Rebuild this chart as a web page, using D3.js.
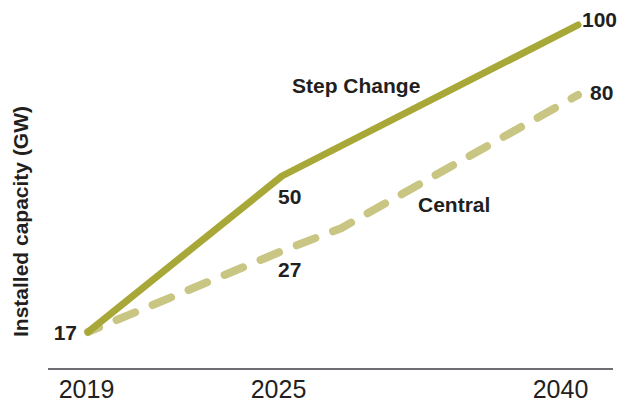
<!DOCTYPE html>
<html>
<head>
<meta charset="utf-8">
<script src="https://cdn.jsdelivr.net/npm/d3@7"></script>
<style>
  html, body { margin: 0; padding: 0; background: #fff; }
  svg { display: block; }
  text { font-family: "Liberation Sans", Arial, Helvetica, sans-serif; fill: #231f20; }
</style>
</head>
<body>
<svg id="chart" width="623" height="405"></svg>
<script>
// ---- data ----
const years = [2019, 2025, 2040];
const tickLabels = ["2019", "2025", "2040"];
const stepYears = [2019, 2025, 2040];
const stepValues = [17, 50, 100];
const centralYears = [2019, 2025, 2028, 2040];
const centralValues = [17, 27, 34, 80];
const valueLabels = [
  { year: 2019, value: 17, text: "17" },
  { year: 2025, value: 50, text: "50" },
  { year: 2025, value: 27, text: "27" },
  { year: 2040, value: 100, text: "100" },
  { year: 2040, value: 80, text: "80" }
];
const seriesNames = ["Step Change", "Central"];
const yTitle = "Installed capacity (GW)";

// ---- layout / style ----
const svg = d3.select("#chart");
const stepColor = "#a8a838";
const centralColor = "#c9c583";

// schematic (non-uniform) scales, as in the reference
const x = d3.scaleLinear().domain(years).range([88, 282, 578]);
const y = d3.scaleLinear().domain([17, 27, 50, 80, 100]).range([332, 251, 176, 95, 25]);

const line = d3.line().x(d => x(d[0])).y(d => y(d[1]));

// baseline axis
svg.append("line")
  .attr("x1", 48).attr("x2", 613)
  .attr("y1", 369).attr("y2", 369)
  .attr("stroke", "#6d6e71").attr("stroke-width", 2);

const axis = d3.axisBottom(x).tickValues(years).tickFormat((d, i) => tickLabels[i]).tickSize(0).tickPadding(0);
const ax = svg.append("g").attr("transform", "translate(0,398)").call(axis);
ax.select(".domain").remove();
ax.selectAll("text")
  .attr("y", 0).attr("dy", 0)
  .style("font-size", "25px").style("font-family", "'Liberation Sans', Arial, sans-serif")
  .attr("fill", "#231f20")
  .attr("dx", (d, i) => i === 0 ? -2 : (i === 1 ? -4 : -18));

// Central (dashed)
svg.append("path")
  .datum(centralYears.map((yr, i) => [yr, centralValues[i]]))
  .attr("d", line)
  .attr("fill", "none")
  .attr("stroke", centralColor)
  .attr("stroke-width", 8)
  .attr("stroke-linecap", "round")
  .attr("stroke-linejoin", "round")
  .attr("stroke-dasharray", "20 19")
  .attr("stroke-dashoffset", 8);

// Step Change (solid)
svg.append("path")
  .datum(stepYears.map((yr, i) => [yr, stepValues[i]]))
  .attr("d", line)
  .attr("fill", "none")
  .attr("stroke", stepColor)
  .attr("stroke-width", 7)
  .attr("stroke-linecap", "round")
  .attr("stroke-linejoin", "round");

// value labels
const labOffsets = [
  { dx: -11, dy: 8, anchor: "end" },
  { dx: -4, dy: 28, anchor: "start" },
  { dx: -4, dy: 26, anchor: "start" },
  { dx: 4, dy: 2, anchor: "start" },
  { dx: 12, dy: 5, anchor: "start" }
];
svg.selectAll("text.val")
  .data(valueLabels)
  .join("text")
  .attr("class", "val")
  .attr("x", (d, i) => x(d.year) + labOffsets[i].dx)
  .attr("y", (d, i) => y(d.value) + labOffsets[i].dy)
  .attr("text-anchor", (d, i) => labOffsets[i].anchor)
  .style("font-size", "21px").style("font-weight", "bold")
  .text(d => d.text);

// series names
const namePos = [{ x: 292, y: 93 }, { x: 418, y: 212 }];
svg.selectAll("text.name")
  .data(seriesNames)
  .join("text")
  .attr("class", "name")
  .attr("x", (d, i) => namePos[i].x)
  .attr("y", (d, i) => namePos[i].y)
  .style("font-size", "21px").style("font-weight", "bold")
  .text(d => d);

// y title
svg.append("text")
  .attr("transform", "translate(28,221.5) rotate(-90)")
  .attr("text-anchor", "middle")
  .style("font-size", "21px").style("font-weight", "bold")
  .text(yTitle);
</script>
</body>
</html>
